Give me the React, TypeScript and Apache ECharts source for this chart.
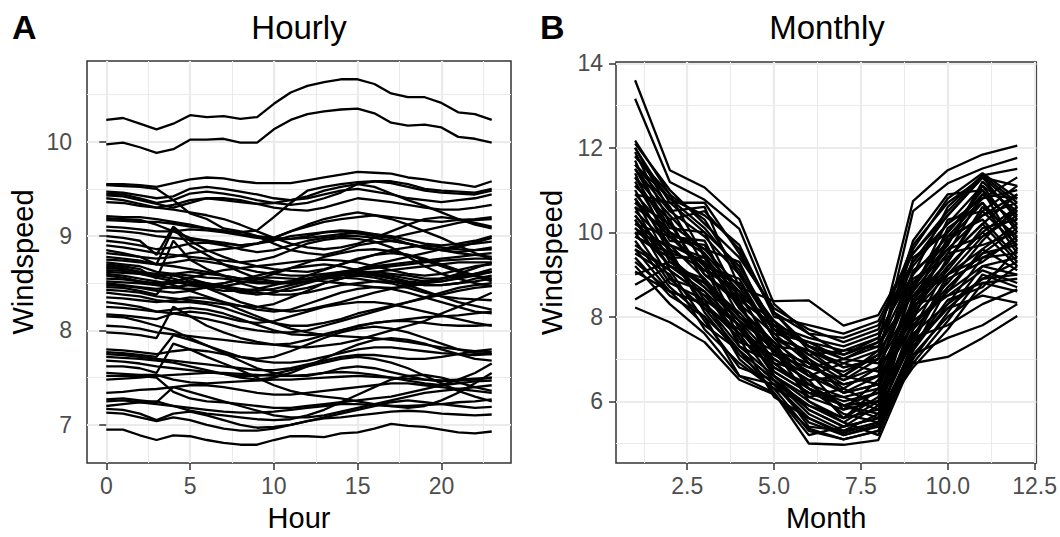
import React, { useEffect, useRef } from "react";
import * as echarts from "echarts";

const hours = [0, 1, 2, 3, 4, 5, 6, 7, 8, 9, 10, 11, 12, 13, 14, 15, 16, 17, 18, 19, 20, 21, 22, 23];
const months = [1, 2, 3, 4, 5, 6, 7, 8, 9, 10, 11, 12];

const hourlyXTicks = [0, 5, 10, 15, 20];
const hourlyXMinor = [2.5, 7.5, 12.5, 17.5, 22.5];
const hourlyYTicks = [7, 8, 9, 10];
const hourlyYMinor = [7.5, 8.5, 9.5, 10.5];
const monthlyXTicks = [2.5, 5, 7.5, 10, 12.5];
const monthlyXMinor = [1.25, 3.75, 6.25, 8.75, 11.25];
const monthlyYTicks = [6, 8, 10, 12, 14];
const monthlyYMinor = [5, 7, 9, 11, 13];

const hourlyWindspeed: number[][] = [
  [10.23, 10.25, 10.19, 10.13, 10.19, 10.28, 10.26, 10.27, 10.24, 10.26, 10.4, 10.52, 10.59, 10.63, 10.66, 10.66, 10.61, 10.51, 10.47, 10.47, 10.41, 10.31, 10.29, 10.23],
  [9.97, 9.99, 9.94, 9.88, 9.92, 10.02, 10.02, 10.03, 9.99, 9.99, 10.13, 10.23, 10.29, 10.32, 10.34, 10.35, 10.3, 10.2, 10.17, 10.18, 10.15, 10.05, 10.03, 9.99],
  [9.55, 9.55, 9.54, 9.52, 9.56, 9.6, 9.62, 9.61, 9.58, 9.56, 9.56, 9.56, 9.59, 9.62, 9.65, 9.68, 9.67, 9.66, 9.62, 9.6, 9.57, 9.55, 9.52, 9.58],
  [9.54, 9.53, 9.52, 9.5, 9.38, 9.24, 9.18, 9.08, 9.05, 9.0, 8.92, 8.85, 8.82, 8.8, 8.84, 8.9, 8.93, 8.95, 8.92, 8.88, 8.85, 8.83, 8.85, 8.88],
  [9.47, 9.46, 9.43, 9.4, 9.42, 9.5, 9.52, 9.5, 9.47, 9.44, 9.4, 9.38, 9.4, 9.44, 9.48, 9.5, 9.47, 9.44, 9.4, 9.38, 9.36, 9.38, 9.4, 9.44],
  [9.45, 9.44, 9.4, 9.35, 9.38, 9.45, 9.47, 9.45, 9.42, 9.38, 9.35, 9.33, 9.35, 9.4, 9.46, 9.55, 9.58, 9.58, 9.55, 9.5, 9.48, 9.47, 9.46, 9.5],
  [9.43, 9.42, 9.38, 9.34, 9.3, 9.35, 9.4, 9.4, 9.38, 9.34, 9.3, 9.28, 9.27, 9.3, 9.35, 9.4, 9.38, 9.36, 9.33, 9.3, 9.28, 9.28, 9.3, 9.33],
  [9.36, 9.35, 9.32, 9.3, 9.33, 9.38, 9.4, 9.38, 9.36, 9.34, 9.35, 9.38, 9.42, 9.48, 9.52, 9.55, 9.52, 9.45, 9.38, 9.32, 9.25, 9.18, 9.12, 9.08],
  [9.21, 9.2, 9.2, 9.18, 9.15, 9.12, 9.08, 9.05, 9.04, 9.06, 9.2, 9.35, 9.48, 9.52, 9.55, 9.57, 9.58, 9.56, 9.52, 9.48, 9.46, 9.45, 9.44, 9.48],
  [9.19, 9.18, 9.17, 9.12, 9.05, 8.98, 8.95, 8.92, 8.9, 8.92, 8.98, 9.05, 9.1, 9.15, 9.18, 9.2, 9.22, 9.2, 9.18, 9.16, 9.15, 9.17, 9.18, 9.2],
  [9.17, 9.16, 9.15, 9.15, 9.13, 9.1, 9.08, 9.06, 9.02, 9.0, 8.98, 8.97, 8.98, 9.0, 9.02, 9.03, 9.02, 9.0, 8.96, 8.92, 8.9, 8.92, 8.95, 9.0],
  [9.1, 9.09, 9.07, 9.05, 9.05, 9.07, 9.06, 9.04, 9.01, 8.98, 8.96, 8.97, 9.0, 9.04, 9.05, 9.03, 9.0, 8.98, 9.02, 9.06, 9.1, 9.14, 9.17, 9.18],
  [9.06, 9.05, 9.03, 9.0, 8.98, 8.96, 8.95, 8.93, 8.9, 8.92, 8.95, 9.0, 9.02, 9.04, 9.06, 9.05, 9.02, 8.98, 8.92, 8.87, 8.85, 8.88, 8.93, 8.98],
  [9.0, 8.98, 8.95, 8.8, 9.1, 8.95, 8.85, 8.78, 8.72, 8.68, 8.65, 8.63, 8.62, 8.65, 8.7, 8.75, 8.8, 8.85, 8.88, 8.9, 8.88, 8.86, 8.85, 8.86],
  [8.95, 8.93, 8.9, 8.86, 8.88, 8.92, 8.93, 8.9, 8.86, 8.83, 8.85, 8.9, 8.95, 8.98, 9.0, 9.0, 8.98, 8.95, 8.92, 8.88, 8.85, 8.82, 8.8, 8.78],
  [8.9, 8.88, 8.85, 8.82, 8.8, 8.78, 8.76, 8.74, 8.72, 8.74, 8.78, 8.85, 8.92, 8.96, 8.98, 8.97, 8.94, 8.88, 8.78, 8.68, 8.6, 8.55, 8.5, 8.47],
  [8.85, 8.82, 8.78, 8.7, 9.08, 8.9, 8.8, 8.7, 8.62, 8.55, 8.52, 8.5, 8.52, 8.55, 8.6, 8.65, 8.68, 8.7, 8.72, 8.74, 8.76, 8.78, 8.8, 8.82],
  [8.78, 8.76, 8.74, 8.7, 8.68, 8.65, 8.62, 8.58, 8.55, 8.52, 8.5, 8.52, 8.55, 8.58, 8.62, 8.65, 8.7, 8.74, 8.78, 8.82, 8.86, 8.9, 8.92, 8.94],
  [8.75, 8.74, 8.72, 8.7, 8.72, 8.75, 8.73, 8.7, 8.66, 8.62, 8.6, 8.58, 8.58, 8.6, 8.62, 8.64, 8.66, 8.68, 8.7, 8.72, 8.74, 8.75, 8.76, 8.76],
  [8.72, 8.7, 8.68, 8.62, 8.6, 8.58, 8.56, 8.55, 8.52, 8.5, 8.5, 8.52, 8.55, 8.58, 8.6, 8.62, 8.6, 8.58, 8.55, 8.52, 8.52, 8.55, 8.58, 8.62],
  [8.7, 8.68, 8.65, 8.55, 8.95, 8.75, 8.65, 8.58, 8.5, 8.45, 8.42, 8.42, 8.45, 8.5, 8.55, 8.6, 8.62, 8.64, 8.66, 8.68, 8.7, 8.72, 8.72, 8.72],
  [8.66, 8.65, 8.62, 8.6, 8.58, 8.55, 8.5, 8.45, 8.4, 8.38, 8.4, 8.45, 8.5, 8.55, 8.58, 8.6, 8.58, 8.55, 8.5, 8.48, 8.48, 8.5, 8.55, 8.58],
  [8.62, 8.61, 8.6, 8.58, 8.6, 8.62, 8.6, 8.58, 8.55, 8.52, 8.5, 8.5, 8.52, 8.55, 8.56, 8.55, 8.52, 8.5, 8.45, 8.4, 8.36, 8.34, 8.33, 8.32],
  [8.58, 8.56, 8.52, 8.48, 8.5, 8.52, 8.5, 8.47, 8.44, 8.42, 8.44, 8.48, 8.52, 8.56, 8.6, 8.62, 8.62, 8.6, 8.58, 8.55, 8.55, 8.58, 8.6, 8.62],
  [8.5, 8.48, 8.46, 8.44, 8.46, 8.48, 8.47, 8.45, 8.42, 8.4, 8.38, 8.38, 8.4, 8.44, 8.48, 8.5, 8.52, 8.52, 8.5, 8.48, 8.48, 8.5, 8.52, 8.55],
  [8.46, 8.45, 8.42, 8.38, 8.6, 8.52, 8.45, 8.38, 8.3, 8.25, 8.22, 8.2, 8.22, 8.26, 8.3, 8.35, 8.4, 8.44, 8.48, 8.52, 8.55, 8.58, 8.6, 8.62],
  [8.43, 8.42, 8.4, 8.36, 8.34, 8.32, 8.3, 8.28, 8.26, 8.25, 8.28, 8.35, 8.42, 8.5, 8.55, 8.58, 8.56, 8.52, 8.48, 8.42, 8.36, 8.3, 8.26, 8.22],
  [8.4, 8.38, 8.36, 8.32, 8.3, 8.3, 8.28, 8.24, 8.18, 8.12, 8.08, 8.05, 8.05, 8.08, 8.12, 8.18, 8.22, 8.26, 8.3, 8.34, 8.38, 8.42, 8.45, 8.47],
  [8.35, 8.34, 8.32, 8.3, 8.32, 8.35, 8.34, 8.3, 8.26, 8.22, 8.2, 8.22, 8.28, 8.34, 8.4, 8.44, 8.46, 8.44, 8.4, 8.35, 8.3, 8.25, 8.2, 8.18],
  [8.3, 8.28, 8.25, 8.2, 8.18, 8.15, 8.12, 8.08, 8.03, 8.0, 7.98, 7.98, 8.0, 8.05, 8.1, 8.15, 8.2, 8.25, 8.3, 8.35, 8.4, 8.45, 8.48, 8.5],
  [8.25, 8.24, 8.22, 8.2, 8.22, 8.24, 8.22, 8.18, 8.12, 8.06, 8.0, 7.96, 7.95, 7.96, 8.0, 8.04, 8.08, 8.1, 8.1, 8.08, 8.06, 8.05, 8.05, 8.06],
  [8.17, 8.16, 8.14, 8.12, 8.18, 8.2, 8.18, 8.14, 8.1, 8.08, 8.1, 8.15, 8.2, 8.25, 8.28, 8.3, 8.3, 8.28, 8.24, 8.2, 8.16, 8.12, 8.08, 8.05],
  [8.05, 8.04, 8.02, 7.98, 7.96, 7.94, 7.92, 7.9, 7.88, 7.86, 7.85, 7.86, 7.9, 7.95, 8.0, 8.05, 8.08, 8.1, 8.12, 8.14, 8.15, 8.16, 8.18, 8.2],
  [7.98, 7.97, 7.95, 7.92, 8.25, 8.15, 8.05, 7.98, 7.92, 7.88, 7.85, 7.83, 7.82, 7.84, 7.86, 7.9, 7.95, 8.0, 8.05, 8.1, 8.18, 8.25, 8.32, 8.4],
  [7.8, 7.79, 7.77, 7.75, 7.78, 7.8, 7.78, 7.75, 7.72, 7.7, 7.72, 7.78, 7.85, 7.92, 7.98, 8.02, 8.04, 8.02, 7.98, 7.92, 7.86, 7.8, 7.76, 7.75],
  [7.77, 7.76, 7.74, 7.72, 7.95, 7.9, 7.84, 7.78, 7.72, 7.68, 7.66, 7.66, 7.68, 7.72, 7.76, 7.8, 7.82, 7.82, 7.8, 7.78, 7.76, 7.75, 7.74, 7.75],
  [7.75, 7.74, 7.72, 7.7, 7.68, 7.66, 7.64, 7.62, 7.6, 7.58, 7.58, 7.6, 7.64, 7.68, 7.72, 7.74, 7.74, 7.72, 7.7, 7.7, 7.72, 7.75, 7.78, 7.8],
  [7.72, 7.71, 7.7, 7.68, 7.66, 7.62, 7.58, 7.54, 7.5, 7.48, 7.5, 7.55, 7.62, 7.7, 7.78, 7.85, 7.9, 7.92, 7.9, 7.86, 7.8, 7.75, 7.7, 7.68],
  [7.68, 7.67, 7.65, 7.62, 7.6, 7.58, 7.56, 7.54, 7.52, 7.52, 7.54, 7.58, 7.62, 7.66, 7.7, 7.72, 7.7, 7.66, 7.6, 7.52, 7.44, 7.36, 7.3, 7.25],
  [7.55, 7.54, 7.53, 7.53, 7.48, 7.45, 7.44, 7.45, 7.46, 7.47, 7.48, 7.48, 7.49, 7.5, 7.51, 7.52, 7.51, 7.5, 7.49, 7.48, 7.47, 7.48, 7.49, 7.5],
  [7.52, 7.52, 7.52, 7.5, 7.35, 7.28, 7.25, 7.24, 7.22, 7.2, 7.18, 7.18, 7.2, 7.22, 7.24, 7.26, 7.28, 7.3, 7.34, 7.38, 7.42, 7.48, 7.55, 7.65],
  [7.48, 7.49, 7.5, 7.52, 7.53, 7.54, 7.55, 7.55, 7.54, 7.53, 7.52, 7.52, 7.53, 7.55, 7.56, 7.55, 7.53, 7.5, 7.47, 7.44, 7.42, 7.44, 7.46, 7.47],
  [7.34, 7.35, 7.37, 7.38, 7.4, 7.42, 7.42, 7.4, 7.37, 7.34, 7.32, 7.32, 7.34, 7.36, 7.38, 7.4, 7.42, 7.44, 7.44, 7.42, 7.4, 7.38, 7.36, 7.34],
  [7.27, 7.28, 7.26, 7.24, 7.4, 7.35, 7.3, 7.25, 7.2, 7.15, 7.1, 7.08, 7.08, 7.1, 7.14, 7.18, 7.22, 7.26, 7.3, 7.34, 7.36, 7.38, 7.4, 7.42],
  [7.25, 7.26, 7.24, 7.22, 7.2, 7.18, 7.16, 7.14, 7.13, 7.13, 7.14, 7.16, 7.18, 7.2, 7.22, 7.22, 7.21, 7.2, 7.2, 7.21, 7.22, 7.24, 7.25, 7.27],
  [7.17, 7.16, 7.12, 7.05, 7.12, 7.14, 7.1, 7.05, 7.0, 6.97, 6.98, 7.0, 7.04, 7.08, 7.12, 7.16, 7.2, 7.24, 7.26, 7.24, 7.22, 7.2, 7.18, 7.19],
  [7.13, 7.12, 7.08, 7.04, 7.08, 7.05, 7.0, 6.96, 6.94, 6.94, 6.96, 7.0, 7.04, 7.07, 7.08, 7.1, 7.12, 7.14, 7.15, 7.14, 7.12, 7.11, 7.1, 7.11],
  [7.2, 7.22, 7.24, 7.25, 7.2, 7.15, 7.12, 7.1, 7.08, 7.06, 7.05, 7.06, 7.1, 7.16, 7.24, 7.32, 7.4, 7.48, 7.52, 7.53, 7.5, 7.45, 7.4, 7.36],
  [8.15, 8.14, 8.1, 8.05, 8.0, 7.92, 7.84, 7.76, 7.68, 7.6, 7.55, 7.52, 7.52, 7.55, 7.6, 7.62, 7.6, 7.56, 7.52, 7.48, 7.46, 7.47, 7.48, 7.5],
  [7.62, 7.62, 7.6, 7.55, 7.86, 7.8, 7.72, 7.65, 7.58, 7.5, 7.42, 7.36, 7.32, 7.3, 7.28, 7.25, 7.22, 7.2, 7.18, 7.2, 7.26, 7.34, 7.44, 7.55],
  [8.6, 8.58, 8.55, 8.52, 8.48, 8.42, 8.36, 8.3, 8.22, 8.15, 8.08, 8.02, 7.98, 7.95, 7.94, 7.93, 7.92, 7.9, 7.88, 7.85, 7.82, 7.8, 7.78, 7.77],
  [9.4, 9.38, 9.34, 9.3, 9.28, 9.25, 9.22, 9.18, 9.12, 9.05, 8.98, 8.92, 8.88, 8.86, 8.88, 8.92, 8.98, 9.05, 9.12, 9.18, 9.2, 9.18, 9.14, 9.1],
  [8.82, 8.8, 8.78, 8.76, 8.78, 8.82, 8.84, 8.86, 8.88, 8.92, 8.98, 9.05, 9.12, 9.18, 9.22, 9.25, 9.22, 9.18, 9.12, 9.05, 8.98, 8.9, 8.82, 8.75],
  [8.52, 8.51, 8.5, 8.48, 8.45, 8.44, 8.45, 8.47, 8.5, 8.54, 8.6, 8.66, 8.72, 8.78, 8.82, 8.85, 8.86, 8.84, 8.8, 8.74, 8.68, 8.62, 8.58, 8.55],
  [8.68, 8.66, 8.62, 8.58, 8.55, 8.5, 8.48, 8.5, 8.54, 8.58, 8.62, 8.66, 8.68, 8.7, 8.68, 8.64, 8.6, 8.56, 8.52, 8.5, 8.52, 8.56, 8.6, 8.65],
  [8.55, 8.54, 8.52, 8.5, 8.52, 8.56, 8.6, 8.64, 8.66, 8.68, 8.7, 8.72, 8.74, 8.75, 8.74, 8.72, 8.68, 8.64, 8.6, 8.58, 8.6, 8.64, 8.68, 8.7],
  [8.48, 8.47, 8.45, 8.42, 8.4, 8.42, 8.46, 8.5, 8.54, 8.56, 8.56, 8.55, 8.54, 8.52, 8.5, 8.48, 8.46, 8.45, 8.46, 8.5, 8.55, 8.6, 8.66, 8.72],
  [8.64, 8.63, 8.6, 8.56, 8.52, 8.48, 8.45, 8.42, 8.42, 8.44, 8.48, 8.52, 8.58, 8.64, 8.7, 8.76, 8.8, 8.82, 8.8, 8.76, 8.7, 8.64, 8.58, 8.52],
  [6.95, 6.95, 6.89, 6.84, 6.89, 6.88, 6.84, 6.81, 6.79, 6.79, 6.84, 6.88, 6.88, 6.87, 6.91, 6.92, 6.96, 7.01, 6.99, 6.98, 6.95, 6.92, 6.91, 6.93],
];

const monthlyWindspeed: number[][] = [
  [13.6, 11.47, 11.06, 10.31, 8.3, 7.6, 7.1, 7.4, 10.74, 11.47, 11.84, 12.05],
  [13.16, 11.19, 10.77, 10.08, 8.1, 7.3, 6.8, 7.0, 10.5, 11.16, 11.51, 11.76],
  [12.17, 10.89, 10.3, 9.0, 7.7, 7.1, 6.6, 7.2, 9.6, 10.8, 11.4, 10.8],
  [12.0, 10.5, 10.6, 8.7, 8.37, 8.39, 7.79, 8.04, 9.5, 10.4, 11.3, 10.6],
  [11.9, 10.2, 9.6, 9.3, 7.6, 7.4, 7.0, 7.3, 9.0, 10.6, 11.35, 11.5],
  [11.8, 10.9, 9.4, 8.5, 7.9, 6.9, 6.4, 6.6, 9.4, 10.0, 10.9, 10.2],
  [11.7, 9.9, 9.8, 8.2, 7.3, 7.2, 6.6, 7.1, 8.6, 10.3, 10.5, 11.1],
  [11.6, 10.6, 9.2, 8.9, 7.5, 6.6, 6.9, 6.7, 9.1, 9.7, 11.2, 10.4],
  [11.5, 10.1, 10.0, 8.4, 7.8, 7.0, 6.2, 6.4, 8.3, 10.1, 10.7, 9.8],
  [11.4, 9.6, 9.1, 8.6, 7.1, 6.8, 6.5, 7.0, 8.9, 9.4, 10.2, 10.9],
  [11.3, 10.4, 9.5, 8.0, 7.4, 6.3, 6.0, 6.2, 8.7, 10.0, 11.0, 9.6],
  [11.2, 9.8, 9.7, 8.3, 6.9, 6.7, 5.8, 6.5, 8.1, 9.8, 10.4, 10.7],
  [11.1, 10.3, 8.8, 8.1, 7.2, 6.1, 6.3, 5.9, 8.4, 9.3, 10.6, 9.9],
  [11.0, 9.5, 9.3, 7.7, 7.0, 6.5, 5.6, 6.3, 8.8, 9.6, 9.9, 10.5],
  [10.9, 10.0, 9.0, 8.4, 6.7, 6.2, 6.1, 5.8, 7.9, 9.9, 10.3, 9.4],
  [10.8, 9.3, 8.7, 7.9, 7.3, 6.0, 5.5, 6.0, 8.2, 9.1, 10.1, 10.3],
  [10.7, 9.9, 9.2, 7.5, 6.8, 6.4, 5.9, 5.6, 8.5, 9.5, 9.7, 10.0],
  [10.6, 9.1, 8.5, 7.8, 6.6, 5.8, 5.4, 5.9, 7.7, 9.2, 10.0, 9.2],
  [10.5, 9.7, 8.9, 7.3, 6.9, 6.3, 5.7, 5.5, 8.0, 8.8, 9.8, 10.6],
  [10.4, 9.4, 8.3, 7.6, 6.5, 5.7, 5.3, 5.7, 7.5, 9.0, 9.4, 9.5],
  [10.3, 8.9, 8.6, 7.4, 7.1, 6.6, 6.2, 6.4, 7.8, 8.6, 9.6, 9.1],
  [10.2, 9.6, 8.1, 7.1, 6.4, 5.5, 5.2, 5.4, 7.4, 8.9, 9.3, 9.9],
  [10.1, 9.2, 8.8, 7.9, 6.6, 6.0, 5.6, 6.1, 8.3, 8.5, 9.1, 8.8],
  [10.0, 8.8, 8.4, 7.0, 6.3, 5.3, 5.1, 5.3, 7.2, 8.7, 9.5, 9.7],
  [9.9, 9.5, 8.2, 7.7, 6.7, 6.2, 5.9, 5.7, 7.6, 8.3, 8.9, 9.3],
  [9.8, 8.7, 8.0, 7.2, 6.2, 5.0, 4.97, 5.08, 7.0, 8.1, 9.2, 9.0],
  [9.7, 9.1, 7.9, 6.8, 6.5, 5.4, 5.3, 5.5, 7.3, 8.4, 8.7, 9.6],
  [9.6, 8.6, 8.3, 7.5, 6.1, 5.6, 5.2, 5.45, 6.9, 7.9, 9.0, 8.7],
  [9.5, 9.0, 7.7, 6.9, 6.3, 5.9, 5.5, 5.2, 7.1, 8.0, 8.6, 9.2],
  [9.4, 8.5, 8.0, 6.6, 6.2, 5.2, 5.4, 5.6, 6.8, 7.7, 8.8, 8.9],
  [9.07, 8.6, 8.3, 7.3, 6.6, 6.1, 5.8, 6.0, 7.4, 8.2, 8.5, 8.33],
  [8.76, 9.2, 8.6, 7.8, 6.9, 6.3, 5.9, 6.2, 7.5, 7.8, 8.3, 8.65],
  [8.41, 8.9, 8.2, 7.2, 6.5, 5.9, 5.6, 5.8, 6.9, 7.05, 7.5, 8.02],
  [8.22, 7.87, 7.4, 6.51, 6.16, 5.35, 5.1, 5.3, 7.1, 7.5, 7.8, 8.3],
  [9.2, 8.3, 7.6, 6.6, 6.4, 5.6, 5.25, 5.5, 7.2, 8.3, 9.4, 9.8],
  [10.9, 10.7, 10.0, 9.2, 7.8, 7.5, 7.3, 7.6, 9.0, 9.9, 10.8, 11.0],
  [11.1, 10.3, 10.5, 9.6, 8.1, 7.6, 7.5, 7.8, 9.3, 10.2, 11.1, 10.5],
  [10.6, 10.0, 9.5, 8.6, 7.7, 7.1, 7.2, 7.3, 8.6, 9.6, 10.4, 10.9],
  [10.2, 9.9, 9.1, 8.8, 7.5, 7.2, 6.8, 7.0, 8.3, 9.3, 10.5, 9.7],
  [10.4, 9.4, 9.4, 8.2, 7.4, 6.8, 7.0, 6.9, 8.2, 9.2, 10.0, 10.6],
  [12.1, 11.0, 10.2, 9.4, 8.2, 7.7, 7.4, 7.7, 9.7, 10.7, 11.3, 10.3],
  [11.8, 10.8, 10.4, 9.7, 8.0, 7.8, 7.6, 7.9, 9.5, 10.5, 11.35, 10.7],
  [11.5, 10.5, 9.9, 9.0, 7.9, 7.3, 7.1, 7.5, 9.2, 10.2, 10.8, 11.3],
  [10.7, 10.2, 9.0, 8.3, 7.6, 6.9, 6.7, 7.1, 8.7, 9.7, 11.1, 10.0],
  [10.0, 9.7, 9.3, 8.4, 7.8, 7.3, 7.0, 7.4, 8.5, 9.0, 9.9, 10.4],
  [9.9, 9.4, 8.7, 7.9, 7.0, 6.5, 6.6, 6.4, 8.0, 9.4, 10.2, 9.3],
  [9.6, 9.1, 8.5, 7.6, 7.2, 6.7, 6.2, 6.6, 7.8, 8.7, 9.5, 10.1],
  [12.0, 10.7, 10.7, 9.5, 8.1, 7.2, 6.9, 7.2, 9.8, 10.9, 11.0, 10.1],
  [11.6, 10.8, 10.1, 9.1, 7.7, 7.4, 7.2, 7.5, 9.3, 10.4, 11.3, 11.1],
  [10.3, 9.2, 8.9, 8.0, 7.2, 6.4, 6.1, 6.3, 8.1, 9.0, 9.6, 10.2],
  [10.1, 9.5, 8.4, 7.8, 6.8, 6.3, 5.9, 6.0, 7.7, 8.6, 9.2, 9.4],
  [11.3, 10.0, 9.6, 8.7, 7.5, 7.0, 6.5, 6.8, 8.8, 9.8, 10.7, 9.5],
  [10.8, 9.7, 9.4, 8.5, 7.3, 6.6, 6.4, 6.6, 8.4, 9.5, 10.9, 10.8],
  [9.3, 8.6, 7.8, 7.2, 6.5, 5.8, 5.4, 5.6, 7.3, 8.2, 8.9, 9.0],
  [9.0, 9.3, 8.8, 8.0, 7.2, 6.9, 6.3, 6.8, 7.9, 8.5, 8.8, 8.6],
];

const FONT = '"Liberation Sans", Arial, Helvetica, sans-serif';

function expandRange(rows: number[][]) {
  let mn = Infinity;
  let mx = -Infinity;
  rows.forEach((r) => r.forEach((v) => { mn = Math.min(mn, v); mx = Math.max(mx, v); }));
  const pad = (mx - mn) * 0.05;
  return [mn - pad, mx + pad];
}

function gridSeries(idx: number, xMajor: number[], xMinor: number[], yMajor: number[], yMinor: number[]) {
  const mk = (xs: number[], ys: number[], width: number) => ({
    type: "line",
    xAxisIndex: idx,
    yAxisIndex: idx,
    data: [],
    silent: true,
    z: 0,
    zlevel: 0,
    markLine: {
      silent: true,
      z: 0,
      symbol: ["none", "none"],
      label: { show: false },
      emphasis: { disabled: true },
      lineStyle: { color: "#EBEBEB", width, type: "solid" },
      data: [...xs.map((v) => ({ xAxis: v })), ...ys.map((v) => ({ yAxis: v }))],
    },
  });
  return [mk(xMinor, yMinor, 1.1), mk(xMajor, yMajor, 2.2)];
}

function axisCommon(ticks: number[], fmt: (v: number) => string) {
  return {
    axisLine: { show: false },
    splitLine: { show: false },
    axisTick: { show: true, customValues: ticks, length: 7, lineStyle: { color: "#333333", width: 1.5 } },
    axisLabel: {
      show: true,
      customValues: ticks,
      formatter: (v: number) => fmt(v),
      color: "#4D4D4D",
      fontSize: 23,
      fontFamily: FONT,
    },
    nameTextStyle: { color: "#000", fontSize: 29, fontFamily: FONT },
  };
}

export default function App() {
  const ref = useRef<HTMLDivElement>(null);
  useEffect(() => {
    if (!ref.current) return;
    const chart = echarts.init(ref.current, undefined, { renderer: "svg" });
    const [hx0, hx1] = expandRange([hours]);
    const [hy0, hy1] = expandRange(hourlyWindspeed);
    const [mx0, mx1] = expandRange([months]);
    const [my0, my1] = expandRange(monthlyWindspeed);

    const lineSeries = (rows: number[][], xs: number[], idx: number) =>
      rows.map((r) => ({
        type: "line",
        xAxisIndex: idx,
        yAxisIndex: idx,
        data: r.map((v, i) => [xs[i], v]),
        showSymbol: false,
        symbol: "none",
        silent: true,
        z: 6,
        lineStyle: { color: "#000000", width: 2.3 },
        emphasis: { disabled: true },
      }));

    const xL = axisCommon(hourlyXTicks, (v) => String(v));
    const yL = axisCommon(hourlyYTicks, (v) => String(v));
    const xR = axisCommon(monthlyXTicks, (v) => v.toFixed(1));
    const yR = axisCommon(monthlyYTicks, (v) => String(v));

    chart.setOption({
      animation: false,
      backgroundColor: "#ffffff",
      grid: [
        { left: 87, top: 61, width: 424, height: 408, show: true, borderColor: "#333333", borderWidth: 1.5, backgroundColor: "#fff" },
        { left: 616, top: 62, width: 422, height: 407, show: true, borderColor: "#333333", borderWidth: 1.5, backgroundColor: "#fff" },
      ],
      xAxis: [
        { ...xL, type: "value", gridIndex: 0, min: hx0, max: hx1, name: "Hour", nameLocation: "middle", nameGap: 40,
          axisLabel: { ...xL.axisLabel, margin: 11 } },
        { ...xR, type: "value", gridIndex: 1, min: mx0, max: mx1, name: "Month", nameLocation: "middle", nameGap: 40,
          axisLabel: { ...xR.axisLabel, margin: 11 } },
      ],
      yAxis: [
        { ...yL, type: "value", gridIndex: 0, min: hy0, max: hy1, name: "Windspeed", nameLocation: "middle", nameGap: 50,
          axisLabel: { ...yL.axisLabel, margin: 15 } },
        { ...yR, type: "value", gridIndex: 1, min: my0, max: my1, name: "Windspeed", nameLocation: "middle", nameGap: 50,
          axisLabel: { ...yR.axisLabel, margin: 13 } },
      ],
      graphic: [
        { type: "text", x: 12, y: 27, style: { text: "A", font: `bold 34px ${FONT}`, fill: "#000", textAlign: "left", textVerticalAlign: "middle" } },
        { type: "text", x: 540, y: 27, style: { text: "B", font: `bold 34px ${FONT}`, fill: "#000", textAlign: "left", textVerticalAlign: "middle" } },
        { type: "text", x: 299, y: 27, style: { text: "Hourly", font: `33px ${FONT}`, fill: "#000", textAlign: "center", textVerticalAlign: "middle" } },
        { type: "text", x: 827, y: 27, style: { text: "Monthly", font: `33px ${FONT}`, fill: "#000", textAlign: "center", textVerticalAlign: "middle" } },
      ],
      series: [
        ...gridSeries(0, hourlyXTicks, hourlyXMinor, hourlyYTicks, hourlyYMinor),
        ...gridSeries(1, monthlyXTicks, monthlyXMinor, monthlyYTicks, monthlyYMinor),
        ...lineSeries(hourlyWindspeed, hours, 0),
        ...lineSeries(monthlyWindspeed, months, 1),
      ],
    });
    return () => chart.dispose();
  }, []);
  return (
    <div
      ref={ref}
      style={{ position: "fixed", left: 0, top: 0, width: 1060, height: 537, background: "#fff" }}
    />
  );
}
